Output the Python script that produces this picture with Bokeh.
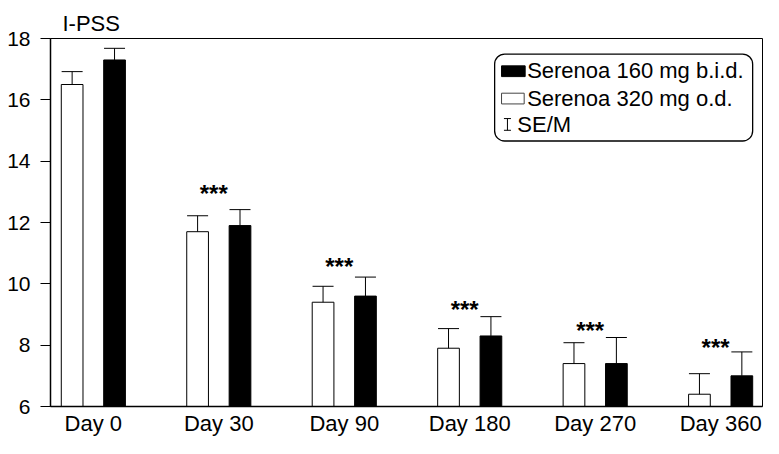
from bokeh.plotting import figure
from bokeh.models import (Range1d, FixedTicker, Whisker, TeeHead, ColumnDataSource,
                          Label, BoxAnnotation)
from bokeh.core.properties import value
from bokeh.embed import file_html
from bokeh.resources import INLINE

# ---------------- data ----------------
categories = ["Day 0", "Day 30", "Day 90", "Day 180", "Day 270", "Day 360"]
od_320_mean = [16.5, 11.7, 9.4, 7.9, 7.4, 6.4]       # Serenoa 320 mg o.d. (white)
od_320_se = [0.42, 0.52, 0.52, 0.64, 0.68, 0.67]
bid_160_mean = [17.3, 11.9, 9.6, 8.3, 7.4, 7.0]      # Serenoa 160 mg b.i.d. (black)
bid_160_se = [0.38, 0.52, 0.62, 0.63, 0.85, 0.78]
sig_categories = ["Day 30", "Day 90", "Day 180", "Day 270", "Day 360"]
sig_text = ["***", "***", "***", "***", "***"]
sig_level = [13.13, 10.75, 9.37, 8.67, 8.13]
y_ticks = [6, 8, 10, 12, 14, 16, 18]
legend_labels = ["Serenoa 160 mg b.i.d.", "Serenoa 320 mg o.d.", "SE/M"]

FONT = "Liberation Sans"

# reference-pixel -> data helpers (layout only)
def rx(px):
    return (px - 96.5) / 127.4

def ry(py):
    return 6 + (420 - py) / 31.42

OFF = 0.169
BAR_W = 0.173
idx = list(range(len(categories)))

src = ColumnDataSource(dict(
    xw=[i - OFF for i in idx],
    xb=[i + OFF for i in idx],
    w=od_320_mean,
    wu=[m + s for m, s in zip(od_320_mean, od_320_se)],
    b=bid_160_mean,
    bu=[m + s for m, s in zip(bid_160_mean, bid_160_se)],
))

p = figure(width=763, height=438, output_backend="svg", toolbar_location=None,
           x_range=Range1d(rx(53), rx(776)), y_range=Range1d(6, 18),
           min_border_left=50, min_border_right=1, min_border_top=38,
           min_border_bottom=30)
p.background_fill_color = "white"
p.border_fill_color = "white"
p.outline_line_color = "black"
p.outline_line_width = 1
p.xgrid.visible = False
p.ygrid.visible = False

# y-axis title "I-PSS" (as plot title, top-left)
p.title.text = "I-PSS"
p.title.align = "left"
p.title.offset = 12
p.title.standoff = 5
p.title.text_font = FONT
p.title.text_font_size = "22px"
p.title.text_font_style = "normal"
p.title.text_color = "black"

# bars
p.vbar(x="xw", top="w", bottom=6, width=BAR_W, source=src,
       fill_color="white", line_color="black", line_width=1)
p.vbar(x="xb", top="b", bottom=6, width=BAR_W, source=src,
       fill_color="black", line_color="black", line_width=1)

# error bars (upper only)
for base, lo, up in (("xw", "w", "wu"), ("xb", "b", "bu")):
    p.add_layout(Whisker(source=src, base=base, lower=lo, upper=up,
                         dimension="height", line_color="black", line_width=1,
                         upper_head=TeeHead(size=21, line_color="black", line_width=1),
                         lower_head=None, level="overlay"))

# significance stars
sig_x = [categories.index(c) - 0.04 for c in sig_categories]
p.text(x=sig_x, y=sig_level, text=sig_text, text_align="center",
       text_baseline="middle", y_offset=6, text_font=value(FONT),
       text_font_size="24px", text_font_style="bold", text_color="black")

# axes
p.yaxis.ticker = FixedTicker(ticks=y_ticks)
p.yaxis.major_label_text_font = FONT
p.yaxis.major_label_text_font_size = "21px"
p.yaxis.major_label_text_color = "black"
p.yaxis.major_tick_out = 10
p.yaxis.major_tick_in = 0
p.yaxis.minor_tick_out = 0
p.yaxis.minor_tick_in = 0
p.yaxis.major_label_standoff = 10
p.yaxis.axis_line_width = 1.5
p.yaxis.axis_line_color = "black"
p.yaxis.major_tick_line_color = "black"

p.xaxis.ticker = FixedTicker(ticks=idx)
p.xaxis.major_label_overrides = {i: c for i, c in zip(idx, categories)}
p.xaxis.major_label_text_font = FONT
p.xaxis.major_label_text_font_size = "22px"
p.xaxis.major_label_text_color = "black"
p.xaxis.major_tick_out = 0
p.xaxis.major_tick_in = 0
p.xaxis.minor_tick_out = 0
p.xaxis.minor_tick_in = 0
p.xaxis.major_label_standoff = 4
p.xaxis.axis_line_width = 1.5
p.xaxis.axis_line_color = "black"

# legend (drawn manually: rounded box)
p.add_layout(BoxAnnotation(left=rx(504), right=rx(766), top=ry(59), bottom=ry(148),
                           border_radius=10, fill_color="white", fill_alpha=1,
                           line_color="black", line_alpha=1, line_width=1.3))
p.add_layout(BoxAnnotation(left=rx(511), right=rx(535), top=ry(71), bottom=ry(82),
                           fill_color="black", fill_alpha=1,
                           line_color="black", line_alpha=1, line_width=1))
p.add_layout(BoxAnnotation(left=rx(511), right=rx(534), top=ry(99), bottom=ry(110),
                           fill_color="white", fill_alpha=1,
                           line_color="#444444", line_alpha=1, line_width=1))
leg_src = ColumnDataSource(dict(b=[rx(517)], lo=[ry(137)], up=[ry(125)]))
p.add_layout(Whisker(source=leg_src, base="b", lower="lo", upper="up",
                     dimension="height", line_color="black", line_width=1,
                     upper_head=TeeHead(size=7, line_color="black", line_width=1),
                     lower_head=TeeHead(size=7, line_color="black", line_width=1),
                     level="overlay"))
for txt, lx, ly in zip(legend_labels, (537, 537, 527), (76, 104, 131)):
    p.add_layout(Label(x=rx(lx), y=ry(ly), text=txt, text_baseline="middle",
                       text_font=FONT, text_font_size="22px", text_color="black"))

open("out.html", "w").write(file_html(p, INLINE))
